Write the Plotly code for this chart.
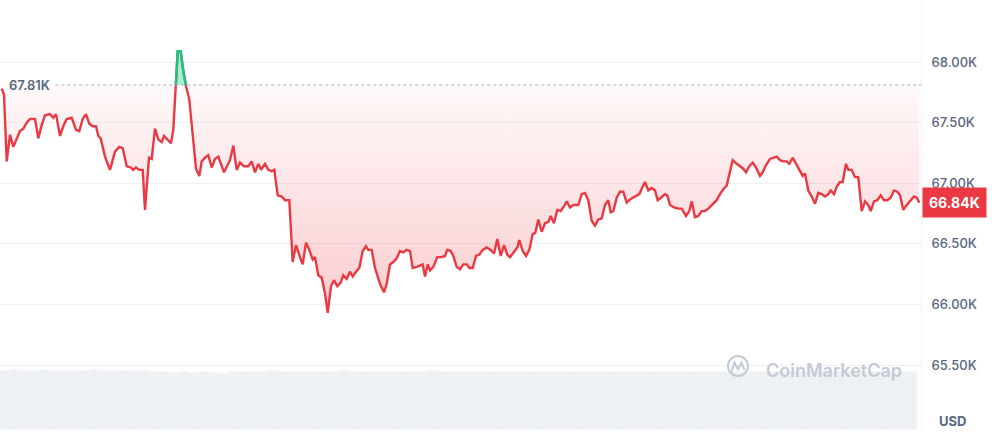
import plotly.graph_objects as go

# ---- data (price in thousands of USD) ----
time_pos = [1.7, 4, 6.7, 10, 13.3, 16.7, 20, 23.3, 26.7, 30, 35, 38.3, 41.7, 45, 50, 53.3, 56, 60, 63.3, 66.7,
            71.7, 76, 79.3, 82.7, 86, 89.3, 92.7, 96, 98.3, 100.7, 105, 110, 115, 119.3, 122.7, 126.7, 130.7, 133.3, 136, 139.3,
            142.7, 145, 149, 151.7, 155, 158.3, 161.7, 164, 168.3, 171, 173.3, 177.7, 180.7, 182.7, 186, 189.3, 192.7, 196, 199.3, 201.7,
            205, 208.3, 211.7, 215, 218.3, 224, 230, 233.3, 236.7, 240, 244, 248.3, 251.7, 255, 258.3, 261, 265, 268.3, 271.7, 274.3,
            277.7, 281.7, 285, 289.3, 292.7, 296, 300, 302.7, 306, 309.3, 312.7, 315, 318.3, 321.7, 325, 327.7, 331, 334, 337.3, 340.7,
            343.3, 346.7, 350, 352.7, 356, 359.3, 362.7, 366, 368.3, 371.7, 375, 380, 384, 386.7, 390, 393.3, 396.7, 400, 403.3, 406.7,
            410, 412.7, 416.7, 420.7, 422.7, 425, 427.7, 430, 433.3, 437.3, 441.7, 445, 447.3, 450.7, 453.3, 456.7, 460, 463.3, 466.7, 469.3,
            472.7, 476, 479.3, 482.7, 486.7, 490.7, 494, 497.3, 500.7, 504, 507.3, 510, 514, 517.3, 519.3, 522.7, 526, 529.3, 532.7, 535.3,
            538.3, 541.7, 545, 548.3, 550.7, 554, 557.3, 560.7, 564, 566.7, 570, 573.3, 578.3, 581.7, 585, 588.3, 591.7, 595, 598.3, 601.7,
            605, 608.3, 610.7, 613.3, 616.7, 620, 623.3, 626.7, 630.7, 635, 639.3, 642.7, 645, 648.3, 651.7, 655, 657.7, 661, 665, 667.3,
            670, 674, 678.3, 681.7, 686, 689.3, 691.7, 695, 698.3, 701.7, 705, 708.3, 713.3, 716.7, 720, 723.3, 726.7, 730, 732.7, 736.7,
            740, 743.3, 746, 749.3, 752.7, 756, 760, 762.7, 766, 770, 773.3, 776.7, 780, 783.3, 786.7, 789.3, 792.7, 796, 799.3, 802.7,
            805, 808.3, 811.7, 815, 818.3, 821.7, 825, 828.3, 830.7, 834, 836.7, 840, 842.7, 846, 848.3, 851.7, 855, 858.3, 861.7, 865,
            868.3, 870.7, 874, 877.3, 880.7, 884, 887.3, 890.7, 894, 897.3, 900, 903.3, 906.7, 910.7, 914, 916.7, 919.3]

price_k = [67.78, 67.73, 67.18, 67.40, 67.30, 67.37, 67.43, 67.45, 67.50, 67.53, 67.53, 67.37, 67.48, 67.56, 67.57, 67.54, 67.57, 67.39, 67.47, 67.53,
           67.54, 67.44, 67.43, 67.53, 67.57, 67.49, 67.47, 67.47, 67.39, 67.37, 67.22, 67.11, 67.26, 67.30, 67.29, 67.14, 67.13, 67.11, 67.13, 67.11,
           67.11, 66.78, 67.21, 67.20, 67.45, 67.36, 67.34, 67.39, 67.35, 67.33, 67.44, 68.09, 68.09, 67.96, 67.80, 67.69, 67.41, 67.12, 67.06, 67.18,
           67.21, 67.23, 67.13, 67.20, 67.22, 67.09, 67.19, 67.31, 67.11, 67.17, 67.14, 67.14, 67.18, 67.09, 67.16, 67.11, 67.16, 67.11, 67.10, 67.11,
           66.90, 66.89, 66.86, 66.86, 66.35, 66.49, 66.39, 66.33, 66.51, 66.45, 66.37, 66.39, 66.24, 66.22, 66.09, 65.93, 66.15, 66.20, 66.15, 66.18,
           66.24, 66.21, 66.27, 66.23, 66.27, 66.30, 66.44, 66.48, 66.45, 66.45, 66.30, 66.17, 66.10, 66.17, 66.33, 66.35, 66.38, 66.44, 66.43, 66.45,
           66.44, 66.30, 66.31, 66.32, 66.33, 66.23, 66.33, 66.28, 66.31, 66.39, 66.39, 66.40, 66.45, 66.44, 66.40, 66.31, 66.29, 66.33, 66.33, 66.30,
           66.30, 66.40, 66.41, 66.45, 66.47, 66.45, 66.42, 66.54, 66.40, 66.49, 66.41, 66.39, 66.44, 66.47, 66.53, 66.44, 66.40, 66.45, 66.58, 66.59,
           66.70, 66.60, 66.67, 66.68, 66.73, 66.67, 66.78, 66.77, 66.81, 66.85, 66.80, 66.82, 66.82, 66.91, 66.92, 66.86, 66.69, 66.65, 66.70, 66.71,
           66.82, 66.86, 66.76, 66.77, 66.88, 66.93, 66.93, 66.84, 66.87, 66.89, 66.91, 66.97, 67.01, 66.94, 66.96, 66.94, 66.86, 66.88, 66.91, 66.90,
           66.82, 66.80, 66.79, 66.79, 66.73, 66.77, 66.85, 66.72, 66.73, 66.77, 66.77, 66.79, 66.83, 66.86, 66.91, 66.95, 66.98, 67.11, 67.19, 67.16,
           67.14, 67.12, 67.09, 67.14, 67.17, 67.13, 67.06, 67.09, 67.15, 67.20, 67.21, 67.22, 67.19, 67.18, 67.18, 67.16, 67.21, 67.16, 67.11, 67.06,
           67.08, 66.94, 66.89, 66.83, 66.92, 66.91, 66.89, 66.91, 66.94, 66.91, 66.97, 67.01, 67.01, 67.16, 67.11, 67.11, 67.05, 67.05, 66.77, 66.85,
           66.82, 66.77, 66.85, 66.86, 66.90, 66.86, 66.86, 66.88, 66.94, 66.93, 66.90, 66.78, 66.82, 66.86, 66.89, 66.88, 66.84]

baseline_k = 67.81  # reference (open) price

volume = [0.99, 1.00, 0.99, 0.98, 1.00, 0.99, 0.99, 0.98, 0.99, 1.00, 0.98, 0.99, 0.99, 0.98, 0.99,
          0.96, 0.97, 0.95, 0.96, 0.95, 0.96, 0.95, 0.94, 0.96,
          0.97, 0.96, 0.97, 0.98, 0.97, 0.96, 0.97, 0.97, 0.96, 0.97, 0.98, 0.97, 0.96, 0.97, 0.96, 0.97,
          0.97, 0.96, 0.97, 0.98, 0.97, 0.96, 0.97, 0.97, 0.96, 0.97, 0.96,
          0.97, 0.96, 0.97, 0.97, 0.96, 0.97, 0.96, 0.97, 0.96, 0.96, 0.97, 0.96, 0.97, 0.97, 0.96, 0.97,
          0.96, 0.97, 0.96, 0.97, 0.96, 0.97, 0.96, 0.96, 0.97, 0.96, 0.97, 0.96, 0.97, 0.96, 0.97, 0.96,
          0.97, 0.96, 0.96, 0.97, 0.96, 0.97, 0.96, 0.97, 0.96]

tick_vals_k = [65.5, 66.0, 66.5, 67.0, 67.5, 68.0]
tick_text = ["65.50K", "66.00K", "66.50K", "67.00K", "67.50K", "68.00K"]

# ---- derived ----
prices = [p * 1000 for p in price_k]
base = baseline_k * 1000
X_MAX = 921

# insert baseline crossing points so the colour split is exact
xs, ys = [], []
for i in range(len(time_pos)):
    if i > 0:
        p0, p1 = prices[i - 1], prices[i]
        if (p0 - base) * (p1 - base) < 0:
            f = (base - p0) / (p1 - p0)
            xs.append(time_pos[i - 1] + f * (time_pos[i] - time_pos[i - 1]))
            ys.append(base)
    xs.append(time_pos[i])
    ys.append(prices[i])

y_low = [min(v, base) for v in ys]
y_high = [max(v, base) for v in ys]
y_green = [v if v >= base else None for v in ys]

nb = len(volume)
bw = 917 / nb
vol_x = [bw * (i + 0.5) for i in range(nb)]

RED = "#ea3943"
GREEN = "#16c784"
GRAY_TXT = "#58667e"
FONT = "Inter"

fig = go.Figure()

fig.add_trace(go.Bar(x=vol_x, y=volume, width=bw, yaxis="y2",
                     marker=dict(color="#eef1f4", line=dict(width=0.6, color="#f3f5f8")),
                     hoverinfo="skip", showlegend=False))

# red gradient fill between baseline and price (below baseline)
fig.add_trace(go.Scatter(x=xs, y=[base] * len(xs), mode="lines", line=dict(width=0),
                         hoverinfo="skip", showlegend=False))
fig.add_trace(go.Scatter(x=xs, y=y_low, mode="lines", line=dict(width=0), fill="tonexty",
                         fillgradient=dict(type="vertical", start=65900, stop=base,
                                           colorscale=[[0, "rgba(234,57,67,0.26)"],
                                                       [1, "rgba(234,57,67,0.03)"]]),
                         hoverinfo="skip", showlegend=False))
# green fill above baseline
fig.add_trace(go.Scatter(x=xs, y=[base] * len(xs), mode="lines", line=dict(width=0),
                         hoverinfo="skip", showlegend=False))
fig.add_trace(go.Scatter(x=xs, y=y_high, mode="lines", line=dict(width=0), fill="tonexty",
                         fillcolor="rgba(22,199,132,0.35)",
                         hoverinfo="skip", showlegend=False))
# price lines
fig.add_trace(go.Scatter(x=xs, y=ys, mode="lines", line=dict(color=RED, width=2.4),
                         showlegend=False))
fig.add_trace(go.Scatter(x=xs, y=y_green, mode="lines", line=dict(color=GREEN, width=2.4),
                         connectgaps=False, showlegend=False, hoverinfo="skip"))

fig.update_layout(
    width=992, height=432,
    margin=dict(l=0, r=71, t=0, b=2),
    paper_bgcolor="white", plot_bgcolor="white",
    showlegend=False,
    bargap=0,
    font=dict(family=FONT, color=GRAY_TXT, size=13),
    xaxis=dict(range=[0, X_MAX], showgrid=False, zeroline=False, showticklabels=False,
               showline=False, fixedrange=True),
    yaxis=dict(side="right", range=[64964, 68511.5],
               tickvals=[v * 1000 for v in tick_vals_k], ticktext=tick_text,
               showgrid=True, gridcolor="#eff2f5", gridwidth=1, zeroline=False,
               showline=True, linecolor="#eff2f5", linewidth=1, mirror=True,
               ticks="", ticklabelstandoff=7,
               tickfont=dict(family=FONT, size=13, color=GRAY_TXT, weight=500)),
    yaxis2=dict(overlaying="y", range=[0, 7.17], visible=False, fixedrange=True),
)

# dotted baseline
fig.add_shape(type="line", xref="paper", yref="y", x0=0.06, x1=1, y0=base, y1=base,
              line=dict(color="#a6b0c3", width=1, dash="dot"), layer="above")

fig.add_annotation(xref="paper", yref="y", x=0, y=base, xshift=7, xanchor="left", yanchor="middle",
                   text=f"{baseline_k:.2f}K", showarrow=False,
                   font=dict(family=FONT, size=13, color=GRAY_TXT, weight=600))

# last price tag
fig.add_annotation(xref="paper", yref="y", x=1, y=prices[-1], xshift=1, xanchor="left", yanchor="middle",
                   text=f"{price_k[-1]:.2f}K", showarrow=False, bgcolor=RED, borderpad=6,
                   font=dict(family=FONT, size=14, color="white", weight=700))

# currency label
fig.add_annotation(xref="paper", yref="paper", x=1, y=0.02, xshift=31, xanchor="center", yanchor="middle",
                   text="USD", showarrow=False,
                   font=dict(family=FONT, size=13, color=GRAY_TXT, weight=700))

# watermark
WM = "#c3cad5"
fig.add_shape(type="circle", xref="paper", yref="paper", x0=728 / 921, x1=748 / 921,
              y0=(430 - 376) / 430, y1=(430 - 356) / 430, line=dict(color=WM, width=2), layer="above")
pts = [(731.5, 372), (734.5, 362.5), (738, 369.5), (741.5, 362.5), (744.5, 370)]
path = "M " + " L ".join(f"{x / 921:.5f},{(430 - y) / 430:.5f}" for x, y in pts)
fig.add_shape(type="path", xref="paper", yref="paper", path=path,
              line=dict(color=WM, width=2), layer="above")
fig.add_annotation(xref="paper", yref="paper", x=764 / 921, y=(430 - 370) / 430, xanchor="left",
                   yanchor="middle", text="CoinMarketCap", showarrow=False,
                   font=dict(family=FONT, size=18, color=WM, weight=600))

fig.write_html("out.html", config={"displayModeBar": False},
               post_script="document.body.style.margin='0';document.body.style.overflow='hidden';")
